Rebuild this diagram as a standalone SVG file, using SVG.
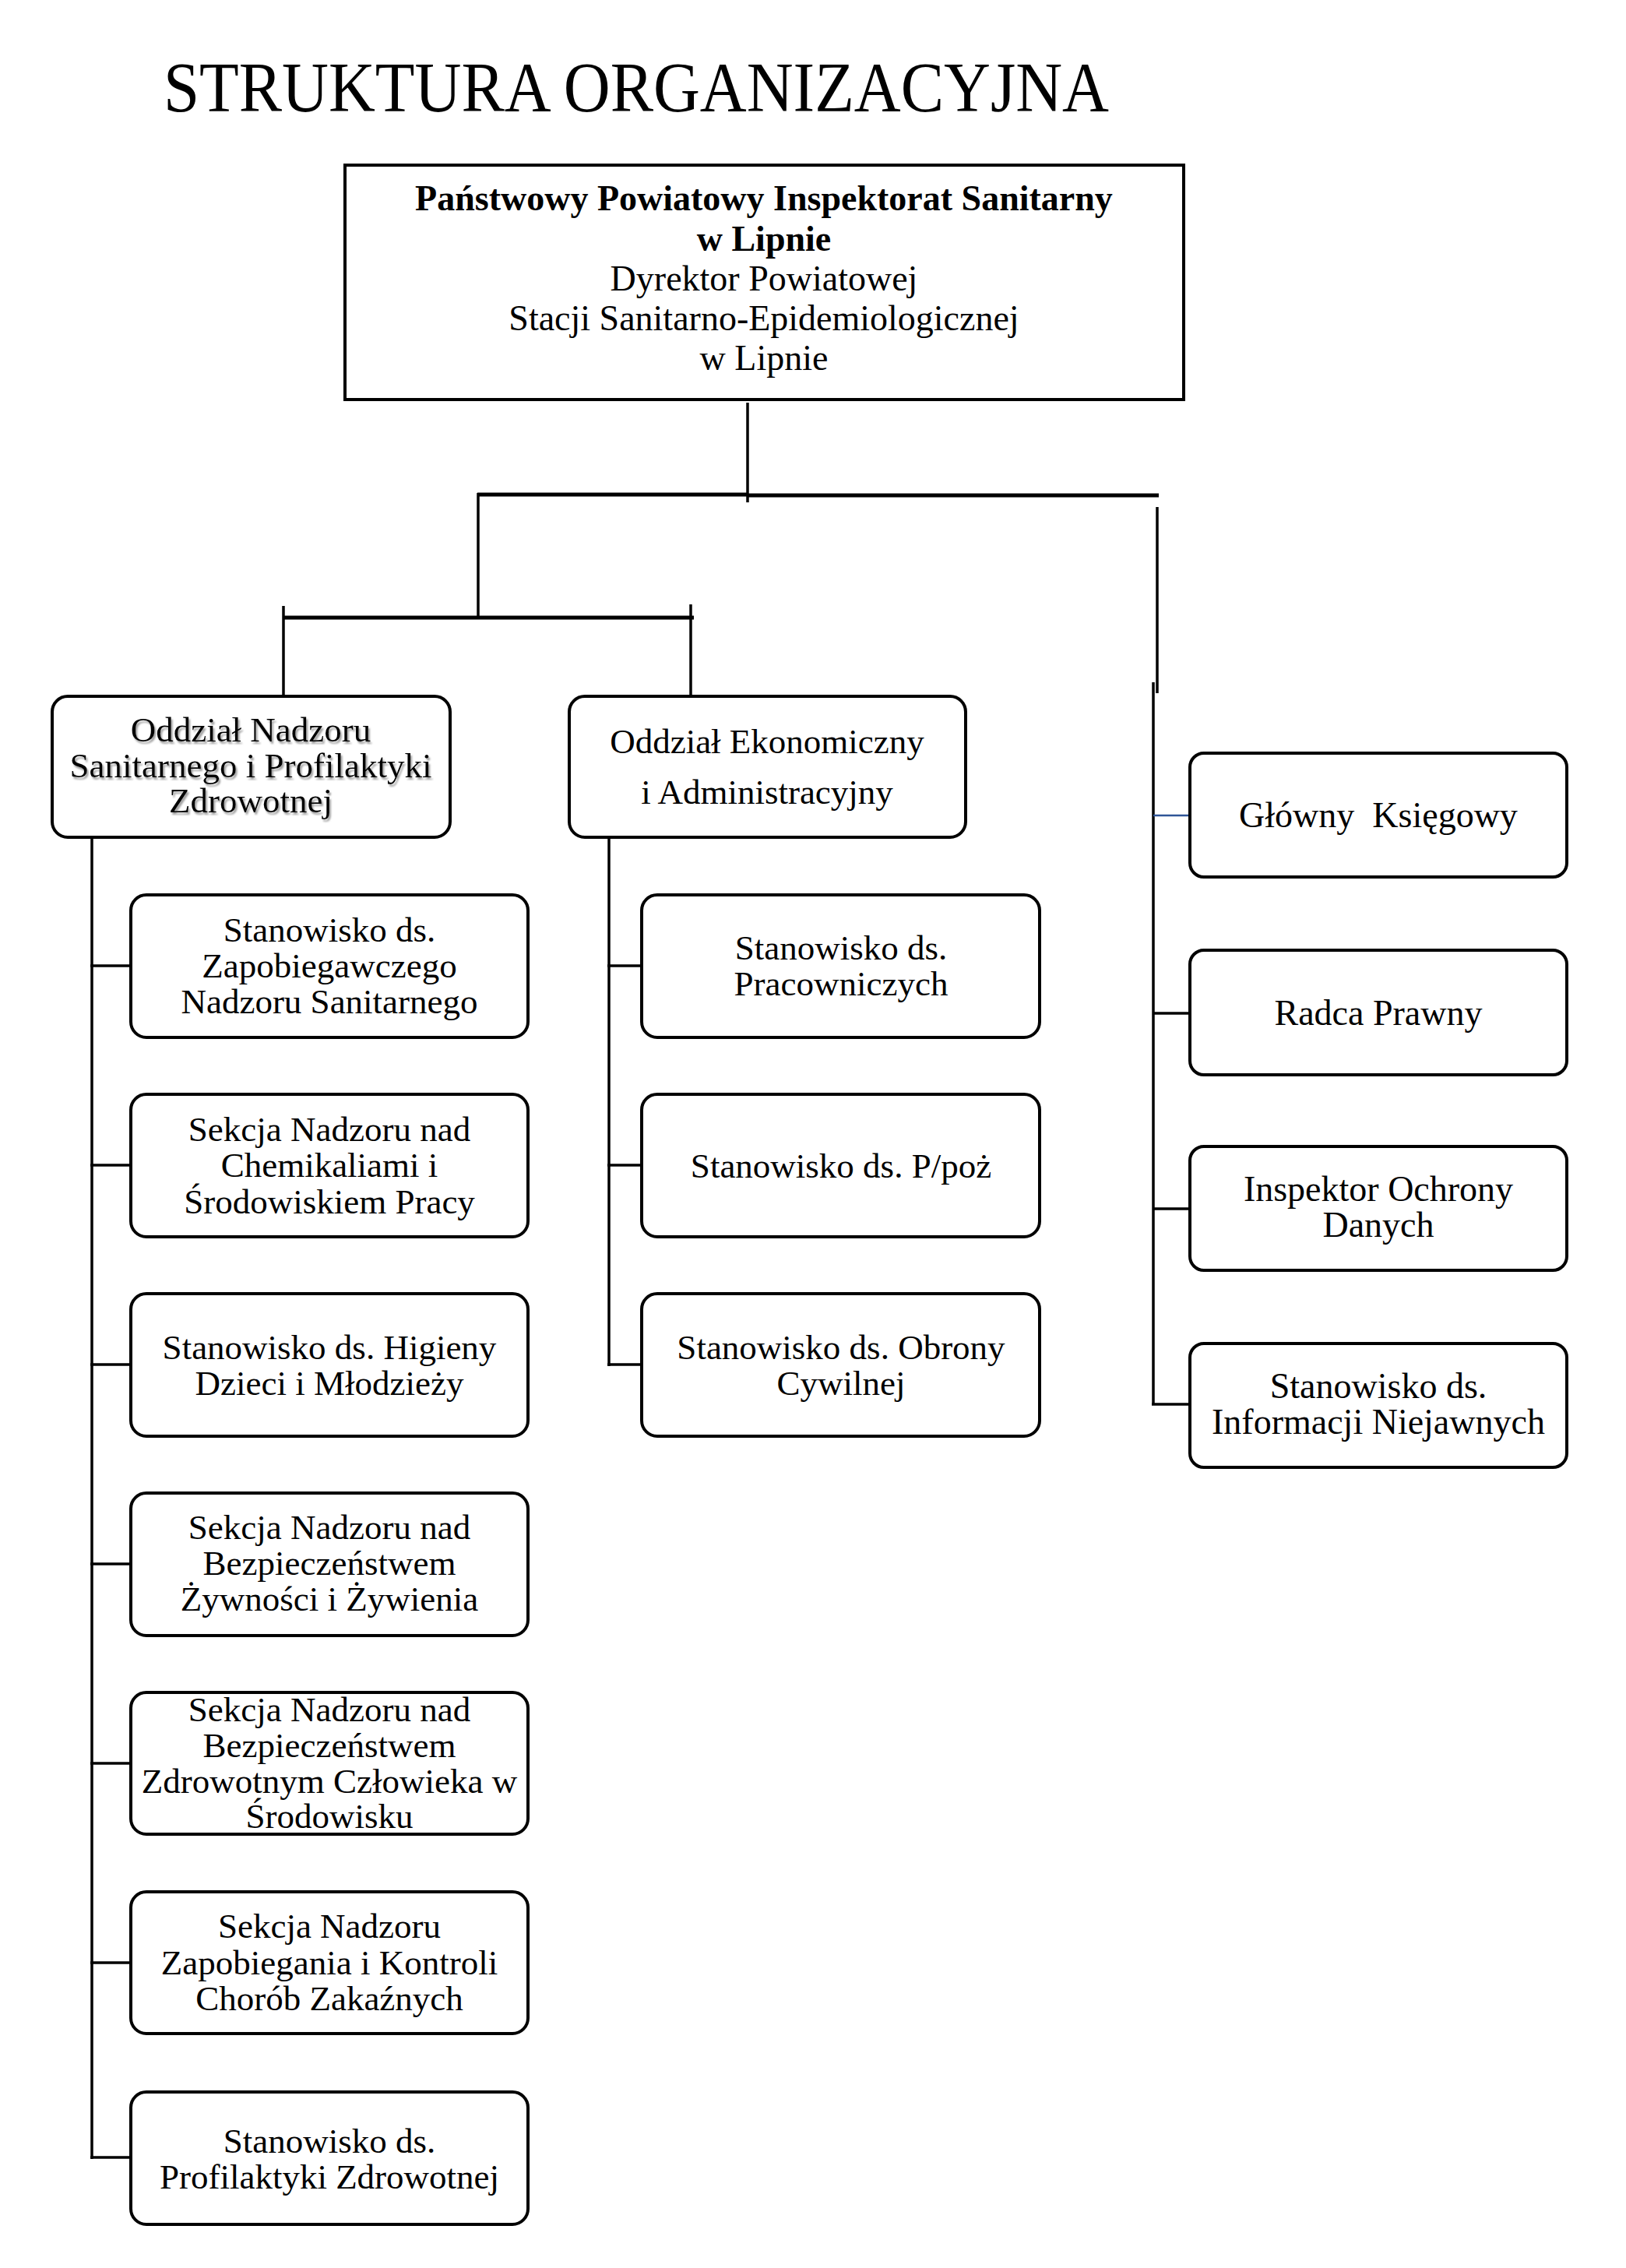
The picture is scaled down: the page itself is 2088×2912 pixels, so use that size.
<svg xmlns="http://www.w3.org/2000/svg" width="2088" height="2912" viewBox="0 0 2088 2912">
<defs>
<filter id="shadow" x="-10%" y="-20%" width="120%" height="140%">
<feDropShadow dx="2" dy="3" stdDeviation="1.2" flood-color="#888" flood-opacity="0.8"/>
</filter>
</defs>
<style>
text{font-family:"Liberation Serif","Times New Roman",serif;fill:#000;text-anchor:middle}
.t{font-size:45px}
.h{font-size:46px}
.b{font-weight:bold}
.box{fill:#fff;stroke:#000;stroke-width:4}
.rb{fill:#fff;stroke:#000;stroke-width:4}
.c{stroke:#000;stroke-width:3.5;fill:none}
.bus{stroke:#000;stroke-width:5;fill:none}
.blue{stroke:#2f5597;stroke-width:2.5;fill:none}
</style>
<rect width="2088" height="2912" fill="#fff"/>
<text x="210" y="143" style="font-size:90px;text-anchor:start" textLength="1214" lengthAdjust="spacingAndGlyphs">STRUKTURA ORGANIZACYJNA</text>

<g id="connectors">
<line class="c" x1="960" y1="517" x2="960" y2="645"/>
<line class="bus" x1="613" y1="635" x2="960" y2="635"/>
<line class="bus" x1="960" y1="636" x2="1488" y2="636"/>
<line class="c" x1="614" y1="633" x2="614" y2="791"/>
<line class="bus" x1="364" y1="793" x2="891" y2="793"/>
<line class="c" x1="364" y1="778" x2="364" y2="893"/>
<line class="c" x1="887" y1="776" x2="887" y2="895"/>
<line class="c" x1="1486" y1="651" x2="1486" y2="890"/>
<line class="c" x1="1481" y1="876" x2="1481" y2="1804"/>
<line class="blue" x1="1481" y1="1047" x2="1527" y2="1047"/>
<line class="c" x1="1481" y1="1301" x2="1527" y2="1301"/>
<line class="c" x1="1481" y1="1552" x2="1527" y2="1552"/>
<line class="c" x1="1479" y1="1803" x2="1527" y2="1803"/>
<line class="c" x1="118" y1="1076" x2="118" y2="2772"/>
<line class="c" x1="116" y1="1240" x2="167" y2="1240"/>
<line class="c" x1="116" y1="1496" x2="167" y2="1496"/>
<line class="c" x1="116" y1="1752" x2="167" y2="1752"/>
<line class="c" x1="116" y1="2008" x2="167" y2="2008"/>
<line class="c" x1="116" y1="2264" x2="167" y2="2264"/>
<line class="c" x1="116" y1="2520" x2="167" y2="2520"/>
<line class="c" x1="116" y1="2770" x2="167" y2="2770"/>
<line class="c" x1="782" y1="1076" x2="782" y2="1754"/>
<line class="c" x1="780" y1="1240" x2="823" y2="1240"/>
<line class="c" x1="780" y1="1496" x2="823" y2="1496"/>
<line class="c" x1="780" y1="1752" x2="823" y2="1752"/>
</g>

<g id="top">
<rect class="box" x="443" y="212" width="1077" height="301"/>
<text class="h b" x="981" y="270">Państwowy Powiatowy Inspektorat Sanitarny</text>
<text class="h b" x="981" y="322">w Lipnie</text>
<text class="h" x="981" y="373">Dyrektor Powiatowej</text>
<text class="h" x="981" y="424">Stacji Sanitarno-Epidemiologicznej</text>
<text class="h" x="981" y="475">w Lipnie</text>
</g>

<g id="oddzial-nadzoru">
<rect class="rb" x="67" y="894" width="511" height="181" rx="20"/>
<g filter="url(#shadow)">
<text class="t" x="322" y="952">Oddział Nadzoru</text>
<text class="t" x="322" y="998">Sanitarnego i Profilaktyki</text>
<text class="t" x="322" y="1043">Zdrowotnej</text>
</g>
</g>

<g id="oddzial-ekonomiczny">
<rect class="rb" x="731" y="894" width="509" height="181" rx="20"/>
<text class="t" x="985" y="967">Oddział Ekonomiczny</text>
<text class="t" x="985" y="1032">i Administracyjny</text>
</g>

<g id="zapobiegawczy">
<rect class="rb" x="168" y="1149" width="510" height="183" rx="20"/>
<text class="t" x="423" y="1209">Stanowisko ds.</text>
<text class="t" x="423" y="1255">Zapobiegawczego</text>
<text class="t" x="423" y="1301">Nadzoru Sanitarnego</text>
</g>

<g id="chemikalia">
<rect class="rb" x="168" y="1405" width="510" height="183" rx="20"/>
<text class="t" x="423" y="1465">Sekcja Nadzoru nad</text>
<text class="t" x="423" y="1511">Chemikaliami  i</text>
<text class="t" x="423" y="1558">Środowiskiem  Pracy</text>
</g>

<g id="higiena">
<rect class="rb" x="168" y="1661" width="510" height="183" rx="20"/>
<text class="t" x="423" y="1745">Stanowisko ds. Higieny</text>
<text class="t" x="423" y="1791">Dzieci i Młodzieży</text>
</g>

<g id="zywnosc">
<rect class="rb" x="168" y="1917" width="510" height="183" rx="20"/>
<text class="t" x="423" y="1976">Sekcja Nadzoru nad</text>
<text class="t" x="423" y="2022">Bezpieczeństwem</text>
<text class="t" x="423" y="2068">Żywności i Żywienia</text>
</g>

<g id="srodowisko">
<rect class="rb" x="168" y="2173" width="510" height="182" rx="20"/>
<text class="t" x="423" y="2210">Sekcja Nadzoru nad</text>
<text class="t" x="423" y="2256">Bezpieczeństwem</text>
<text class="t" x="423" y="2302">Zdrowotnym Człowieka w</text>
<text class="t" x="423" y="2347">Środowisku</text>
</g>

<g id="choroby">
<rect class="rb" x="168" y="2429" width="510" height="182" rx="20"/>
<text class="t" x="423" y="2488">Sekcja Nadzoru</text>
<text class="t" x="423" y="2535">Zapobiegania i Kontroli</text>
<text class="t" x="423" y="2581">Chorób Zakaźnych</text>
</g>

<g id="profilaktyka">
<rect class="rb" x="168" y="2686" width="510" height="170" rx="20"/>
<text class="t" x="423" y="2764">Stanowisko ds.</text>
<text class="t" x="423" y="2810">Profilaktyki  Zdrowotnej</text>
</g>

<g id="pracownicze">
<rect class="rb" x="824" y="1149" width="511" height="183" rx="20"/>
<text class="t" x="1080" y="1232">Stanowisko ds.</text>
<text class="t" x="1080" y="1278">Pracowniczych</text>
</g>

<g id="ppoz">
<rect class="rb" x="824" y="1405" width="511" height="183" rx="20"/>
<text class="t" x="1080" y="1512">Stanowisko ds. P/poż</text>
</g>

<g id="obrona">
<rect class="rb" x="824" y="1661" width="511" height="183" rx="20"/>
<text class="t" x="1080" y="1745">Stanowisko ds. Obrony</text>
<text class="t" x="1080" y="1791">Cywilnej</text>
</g>

<g id="ksiegowy">
<rect class="rb" x="1528" y="967" width="484" height="159" rx="18"/>
<text class="h" x="1770" y="1062" xml:space="preserve">Główny  Księgowy</text>
</g>

<g id="radca">
<rect class="rb" x="1528" y="1220" width="484" height="160" rx="18"/>
<text class="h" x="1770" y="1316">Radca Prawny</text>
</g>

<g id="iod">
<rect class="rb" x="1528" y="1472" width="484" height="159" rx="18"/>
<text class="h" x="1770" y="1542">Inspektor Ochrony</text>
<text class="h" x="1770" y="1588">Danych</text>
</g>

<g id="niejawne">
<rect class="rb" x="1528" y="1725" width="484" height="159" rx="18"/>
<text class="h" x="1770" y="1795">Stanowisko ds.</text>
<text class="h" x="1770" y="1841">Informacji Niejawnych</text>
</g>
</svg>
